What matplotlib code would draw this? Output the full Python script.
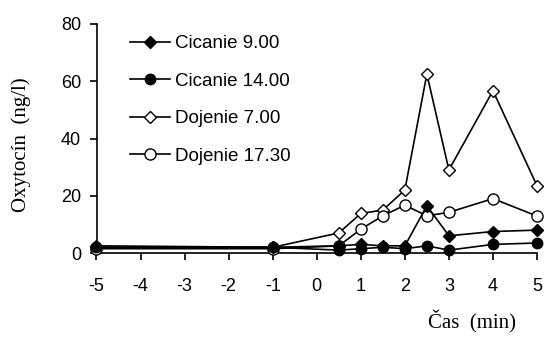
import matplotlib
matplotlib.use("Agg")
import matplotlib.pyplot as plt

plt.rcParams['font.family'] = ['Liberation Sans', 'DejaVu Sans']
plt.rcParams['axes.unicode_minus'] = False

# casy odberov (min)
cas = [-5, -1, 0.5, 1, 1.5, 2, 2.5, 3, 4, 5]
# oxytocin (ng/l)
cicanie_900 = [2.5, 2.0, 2.5, 3.0, 2.5, 2.5, 16.5, 6.0, 7.5, 8.0]
cicanie_1400 = [2.0, 2.0, 1.0, 1.5, 2.0, 1.5, 2.5, 1.0, 3.0, 3.5]
dojenie_700 = [2.0, 2.0, 7.0, 13.8, 15.0, 22.0, 62.5, 29.0, 56.7, 23.5]
dojenie_1730 = [1.5, 1.5, 2.5, 8.3, 13.0, 16.7, 13.0, 14.2, 19.0, 12.9]

x_ticks = [-5, -4, -3, -2, -1, 0, 1, 2, 3, 4, 5]
y_ticks = [0, 20, 40, 60, 80]

fig = plt.figure(figsize=(5.45, 3.38), dpi=100)
ax = fig.add_axes([96.5 / 545, 85 / 338, 440.5 / 545, 229 / 338])

ax.plot(cas, cicanie_900, color="black", lw=1.2, marker="D", ms=6,
        mfc="black", mec="black", label="Cicanie 9.00", zorder=5, clip_on=False)
ax.plot(cas, cicanie_1400, color="black", lw=1.2, marker="o", ms=7.5,
        mfc="black", mec="black", label="Cicanie 14.00", zorder=6, clip_on=False)
ax.plot(cas, dojenie_700, color="black", lw=1.2, marker="D", ms=6,
        mfc="white", mec="black", mew=1.0, label="Dojenie 7.00", zorder=3, clip_on=False)
ax.plot(cas, dojenie_1730, color="black", lw=1.2, marker="o", ms=8,
        mfc="white", mec="black", mew=1.0, label="Dojenie 17.30", zorder=4, clip_on=False)

ax.set_xlim(-5, 5)
ax.set_ylim(0, 80)
ax.set_xticks(x_ticks)
ax.set_yticks(y_ticks)
for direction in ["right", "top"]:
    ax.spines[direction].set_visible(False)
for direction in ["left", "bottom"]:
    ax.spines[direction].set_linewidth(1.2)
ax.tick_params(axis="both", direction="out", length=5, width=1.2, labelsize=13)
ax.tick_params(axis="x", pad=13)
ax.tick_params(axis="y", pad=6)

ax.legend(loc="upper left", bbox_to_anchor=(0.076, 0.952), frameon=False,
          fontsize=13.5, borderpad=0, borderaxespad=0, handlelength=2.13,
          handletextpad=0.27, labelspacing=1.09)

fig.text(472 / 545, 1 - 322 / 338, "Čas  (min)", family="Liberation Serif",
         fontsize=15, ha="center", va="center")
fig.text(21 / 545, 1 - 145 / 338, "Oxytocín  (ng/l)", family="Liberation Serif",
         fontsize=15, ha="center", va="center", rotation=90)

fig.savefig("out.png", dpi=100)
